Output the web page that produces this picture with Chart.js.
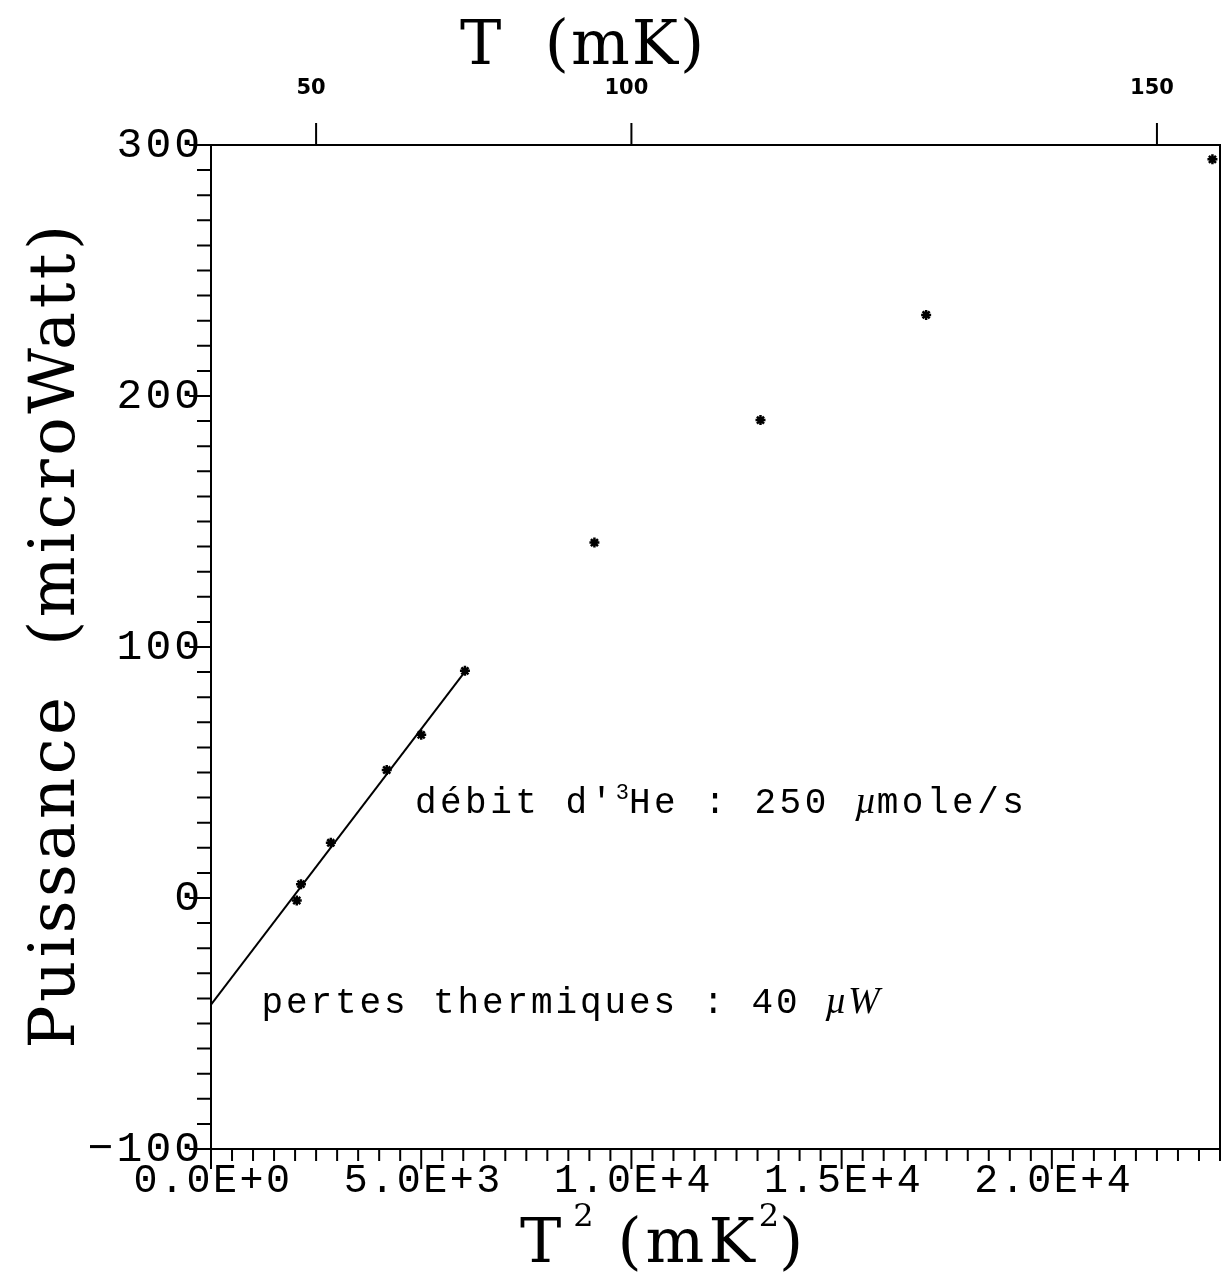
<!DOCTYPE html>
<html lang="fr">
<head>
<meta charset="UTF-8">
<title>Puissance en fonction de T²</title>
<script src="https://cdn.jsdelivr.net/npm/chart.js"></script>
<style>
  html, body { margin: 0; padding: 0; background: #fff; }
  canvas { display: block; }
</style>
</head>
<body>
<canvas id="myChart" width="1222" height="1279"></canvas>
<script>
// mesures : T² (mK²) et puissance (microWatt)
var t2Values = [2040, 2140, 2850, 4180, 5000, 6040, 9120, 13070, 17010, 23820];
var powerValues = [-1, 5.5, 22, 51, 65, 90.5, 141.6, 190.4, 232.3, 294.3];

// droite d'ajustement
var fitT2 = [0, 6100];
var fitPower = [-42.5, 91.5];

// graduations
var xTickValues = [0, 5000, 10000, 15000, 20000];
var xTickLabels = ['0.0E+0', '5.0E+3', '1.0E+4', '1.5E+4', '2.0E+4'];
var yTickValues = [-100, 0, 100, 200, 300];
var yTickLabels = ['\u2212100', '0', '100', '200', '300'];
var topTickT = [50, 100, 150];

var monoFont = '"Liberation Mono", "DejaVu Sans Mono", monospace';
var serifFont = '"DejaVu Serif", "Liberation Serif", serif';

function pairs(xs, ys) {
    return xs.map(function (x, i) { return { x: x, y: ys[i] }; });
}

// texte en plusieurs morceaux (exposants, italique)
function drawParts(ctx, parts, x, y) {
    parts.forEach(function (p) {
        ctx.font = p.font;
        ctx.letterSpacing = p.spacing || '0px';
        ctx.fillText(p.text, x, y - (p.dy || 0));
        x += ctx.measureText(p.text).width + (p.gap || 0);
    });
}

var frameAndTicks = {
    id: 'frameAndTicks',
    afterDraw: function (chart) {
        var ctx = chart.ctx, a = chart.chartArea;
        var xs = chart.scales.x, ys = chart.scales.y;
        ctx.save();
        ctx.strokeStyle = '#000';
        ctx.fillStyle = '#000';
        ctx.lineWidth = 2;
        ctx.strokeRect(a.left, a.top, a.right - a.left, a.bottom - a.top);

        ctx.beginPath();
        for (var v = -100; v <= 300; v += 10) {
            var py = ys.getPixelForValue(v);
            var len = v % 100 === 0 ? 22 : 14;
            ctx.moveTo(a.left - len, py);
            ctx.lineTo(a.left, py);
        }
        for (var u = 0; u <= 24000; u += 500) {
            var px = xs.getPixelForValue(u);
            var l = u % 5000 === 0 ? 20 : 12;
            ctx.moveTo(px, a.bottom);
            ctx.lineTo(px, a.bottom + l);
        }
        topTickT.forEach(function (t) {
            var px = xs.getPixelForValue(t * t);
            ctx.moveTo(px, a.top);
            ctx.lineTo(px, a.top - 22);
        });
        ctx.stroke();

        // étiquettes des graduations
        ctx.textBaseline = 'middle';
        ctx.font = '43px ' + monoFont;
        ctx.letterSpacing = '3px';
        ctx.textAlign = 'right';
        yTickValues.forEach(function (val, i) {
            ctx.fillText(yTickLabels[i], a.left - 8, ys.getPixelForValue(val) + 1);
        });
        ctx.font = '40px ' + monoFont;
        ctx.letterSpacing = '2.5px';
        ctx.textAlign = 'center';
        xTickValues.forEach(function (val, i) {
            ctx.fillText(xTickLabels[i], xs.getPixelForValue(val) + 2, a.bottom + 32);
        });
        ctx.font = 'bold 21px "DejaVu Sans", sans-serif';
        ctx.letterSpacing = '0px';
        topTickT.forEach(function (t) {
            ctx.fillText(String(t), xs.getPixelForValue(t * t) - 5, a.top - 56);
        });

        // titres des axes
        ctx.textBaseline = 'alphabetic';
        ctx.textAlign = 'left';
        var big = '62px ' + serifFont;
        var sup = '32px ' + serifFont;
        drawParts(ctx, [
            { text: 'T', font: big },
            { text: '  (mK)', font: big, spacing: '2px' }
        ], 460, 64);
        drawParts(ctx, [
            { text: 'T', font: big, gap: 12 },
            { text: '2', font: sup, dy: 36 },
            { text: ' (mK', font: big, spacing: '4px' },
            { text: '2', font: sup, dy: 36 },
            { text: ')', font: big }
        ], 520, 1262);

        ctx.save();
        ctx.translate(74, 635);
        ctx.rotate(-Math.PI / 2);
        ctx.textAlign = 'center';
        ctx.font = '64px ' + serifFont;
        ctx.letterSpacing = '3.5px';
        ctx.fillText('Puissance  (microWatt)', 0, 0);
        ctx.restore();

        // annotations
        var ann = '36px ' + monoFont;
        var annSup = '22px ' + monoFont;
        var mu = 'italic 38px "Liberation Serif", serif';
        drawParts(ctx, [
            { text: 'débit d\'', font: ann, spacing: '3.5px' },
            { text: '3', font: annSup, dy: 14 },
            { text: 'He : 250 ', font: ann, spacing: '3.5px' },
            { text: 'µ', font: mu },
            { text: 'mole/s', font: ann, spacing: '3.5px' }
        ], xs.getPixelForValue(4850), ys.getPixelForValue(34));
        drawParts(ctx, [
            { text: 'pertes thermiques : 40 ', font: ann, spacing: '2.9px' },
            { text: 'µW', font: mu, spacing: '1px' }
        ], xs.getPixelForValue(1200), ys.getPixelForValue(-46));
        ctx.restore();
    }
};

var ctx = document.getElementById('myChart').getContext('2d');
var myChart = new Chart(ctx, {
    type: 'scatter',
    data: {
        datasets: [{
            type: 'line',
            data: pairs(fitT2, fitPower),
            borderColor: '#000',
            borderWidth: 2,
            pointRadius: 0,
            fill: false
        }, {
            data: pairs(t2Values, powerValues),
            pointStyle: 'star',
            pointRadius: 5,
            borderColor: '#000',
            backgroundColor: '#000',
            borderWidth: 2.5
        }]
    },
    options: {
        responsive: false,
        animation: false,
        layout: { autoPadding: false, padding: { top: 145, right: 2 } },
        plugins: {
            legend: { display: false },
            tooltip: { enabled: false }
        },
        scales: {
            x: {
                type: 'linear',
                position: 'bottom',
                min: 0,
                max: 24000,
                grid: { display: false, drawTicks: false },
                border: { display: false },
                ticks: { display: false },
                afterFit: function (s) { s.height = 130; }
            },
            y: {
                type: 'linear',
                min: -100,
                max: 300,
                grid: { display: false, drawTicks: false },
                border: { display: false },
                ticks: { display: false },
                afterFit: function (s) { s.width = 211; }
            }
        }
    },
    plugins: [frameAndTicks]
});
</script>
</body>
</html>
